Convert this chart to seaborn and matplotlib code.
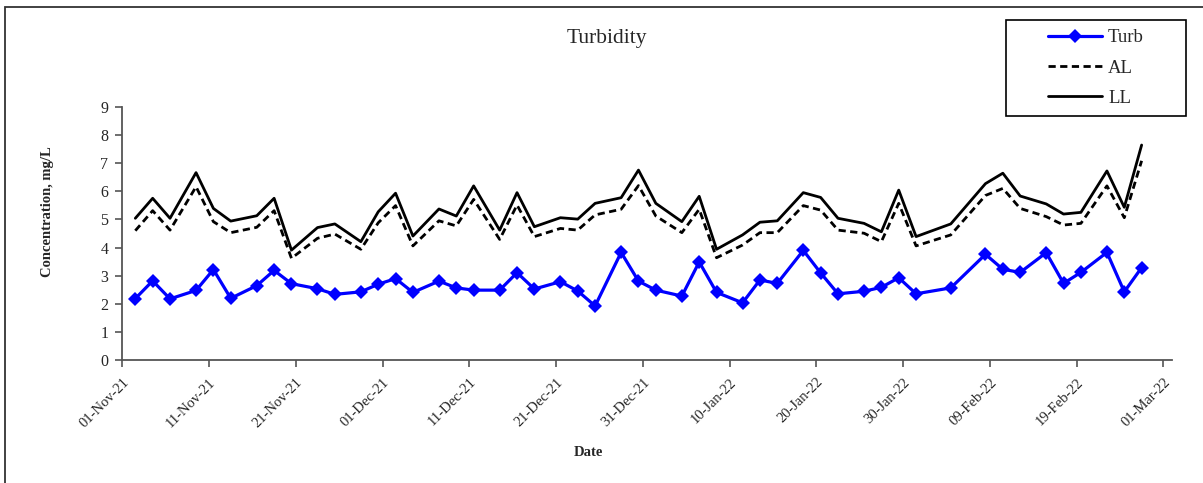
import numpy as np
import pandas as pd
import matplotlib
matplotlib.use("Agg")
import matplotlib.pyplot as plt
import matplotlib.dates as mdates
from matplotlib.patches import Rectangle
import seaborn as sns

# sampling dates (Tue / Thu / Sat mostly)
dates = ["2021-11-02", "2021-11-04", "2021-11-06", "2021-11-09", "2021-11-11", "2021-11-13",
         "2021-11-16", "2021-11-18", "2021-11-20", "2021-11-23", "2021-11-25", "2021-11-28",
         "2021-11-30", "2021-12-02", "2021-12-04", "2021-12-07", "2021-12-09", "2021-12-11",
         "2021-12-14", "2021-12-16", "2021-12-18", "2021-12-21", "2021-12-23", "2021-12-25",
         "2021-12-28", "2021-12-30", "2022-01-01", "2022-01-04", "2022-01-06", "2022-01-08",
         "2022-01-11", "2022-01-13", "2022-01-15", "2022-01-18", "2022-01-20", "2022-01-22",
         "2022-01-25", "2022-01-27", "2022-01-29", "2022-01-31", "2022-02-04", "2022-02-08",
         "2022-02-10", "2022-02-12", "2022-02-15", "2022-02-17", "2022-02-19", "2022-02-22",
         "2022-02-24", "2022-02-26"]

turb = [2.19, 2.82, 2.18, 2.48, 3.22, 2.20, 2.65, 3.19, 2.72, 2.54, 2.34, 2.43, 2.70, 2.90,
        2.41, 2.81, 2.57, 2.49, 2.49, 3.11, 2.53, 2.79, 2.46, 1.93, 3.83, 2.81,
        2.49, 2.28, 3.49, 2.41, 2.04, 2.85, 2.73, 3.90, 3.10, 2.36, 2.45, 2.59, 2.93, 2.36,
        2.57, 3.76, 3.23, 3.12, 3.82, 2.73, 3.12, 3.83, 2.43, 3.29]

al = [4.60, 5.31, 4.62, 6.16, 4.92, 4.53, 4.72, 5.31, 3.62, 4.33, 4.48, 3.94, 4.88, 5.49,
      4.06, 4.95, 4.77, 5.71, 4.29, 5.51, 4.39, 4.68, 4.62, 5.16, 5.36, 6.20,
      5.12, 4.53, 5.36, 3.64, 4.09, 4.53, 4.53, 5.49, 5.33, 4.62, 4.51, 4.21, 5.57, 4.06,
      4.45, 5.85, 6.10, 5.39, 5.10, 4.80, 4.86, 6.19, 5.06, 7.08]

ll = [5.04, 5.75, 5.04, 6.66, 5.39, 4.94, 5.13, 5.75, 3.91, 4.71, 4.84, 4.21, 5.27, 5.93,
      4.41, 5.37, 5.12, 6.19, 4.62, 5.95, 4.74, 5.06, 5.01, 5.57, 5.77, 6.75,
      5.57, 4.92, 5.82, 3.94, 4.45, 4.90, 4.95, 5.95, 5.78, 5.04, 4.86, 4.56, 6.04, 4.39,
      4.84, 6.27, 6.64, 5.83, 5.55, 5.19, 5.25, 6.72, 5.43, 7.64]

df = pd.DataFrame({"Date": pd.to_datetime(dates), "Turb": turb, "AL": al, "LL": ll})
# excel puts each point in the middle of its day
df["x"] = df["Date"] + pd.Timedelta(hours=12)

sns.set_style("white")
plt.rcParams["font.family"] = ["Liberation Serif", "DejaVu Serif"]

W, H = 1203, 483
fig = plt.figure(figsize=(W / 100, H / 100), dpi=100)
ax = fig.add_axes([122.3 / W, 1 - 360.3 / H, (1172 - 122.3) / W, (360.3 - 106.7) / H])

sns.lineplot(data=df, x="x", y="Turb", ax=ax, color="#0000FF", lw=2.3, marker="D",
             markersize=7, markeredgewidth=0, label="Turb")
sns.lineplot(data=df, x="x", y="AL", ax=ax, color="black", lw=2.0,
             linestyle=(0, (2.6, 1.6)), label="AL")
sns.lineplot(data=df, x="x", y="LL", ax=ax, color="black", lw=2.0, label="LL")

ax.set_xlim(pd.Timestamp("2021-11-01"), pd.Timestamp("2022-03-02"))
ax.set_ylim(0, 9)
ax.set_yticks(range(0, 10))
ax.xaxis.set_major_locator(mdates.ticker.FixedLocator(
    mdates.date2num(pd.date_range("2021-11-01", "2022-03-01", freq="10D"))))
ax.xaxis.set_major_formatter(mdates.DateFormatter("%d-%b-%y"))

for s in ["top", "right"]:
    ax.spines[s].set_visible(False)
for s in ["left", "bottom"]:
    ax.spines[s].set_color("#555555")
    ax.spines[s].set_linewidth(1.3)

ax.tick_params(axis="y", direction="out", length=5, width=1.2, color="#555555",
               labelsize=11.5, pad=5, left=True)
ax.tick_params(axis="x", direction="out", length=5, width=1.2, color="#555555",
               labelsize=10.5, pad=6, bottom=True)
for lab in ax.get_xticklabels():
    lab.set_rotation(45)
    lab.set_ha("right")
    lab.set_va("top")
    lab.set_rotation_mode("anchor")

ax.set_xlabel("Date", fontsize=10.5, fontweight="bold")
ax.set_ylabel("Concentration, mg/L", fontsize=10.5, fontweight="bold")
ax.xaxis.set_label_coords((588 - 122.3) / 1049.7, (360.3 - 446) / 253.6)
ax.yaxis.set_label_coords((54 - 122.3) / 1049.7, (360.3 - 211.7) / 253.6)

fig.text(607 / W, 1 - 38 / H, "Turbidity", ha="center", va="center", fontsize=15.5)

handles, labels = ax.get_legend_handles_labels()
ax.get_legend().remove()
fig.legend(handles, labels, loc="center", bbox_to_anchor=(1096 / W, 1 - 68 / H),
           frameon=False, fontsize=13.5, handlelength=2.9, handletextpad=0.3,
           labelspacing=0.7)
fig.patches.append(Rectangle((1006 / W, 1 - 116 / H), 180 / W, 96 / H, transform=fig.transFigure,
                             fill=False, edgecolor="black", lw=1.2))

# chart area border
fig.patches.append(Rectangle((5 / W, -0.1), 1.2, 1.1 - 7 / H, transform=fig.transFigure,
                             fill=False, edgecolor="#333333", lw=1.3))

fig.savefig("out.png", dpi=100)
